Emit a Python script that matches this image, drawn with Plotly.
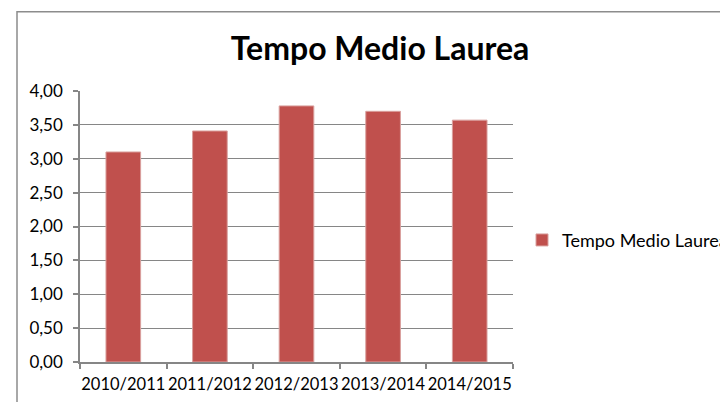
import plotly.graph_objects as go

categories = ["2010/2011", "2011/2012", "2012/2013", "2013/2014", "2014/2015"]
values = [3.10, 3.41, 3.78, 3.70, 3.57]
series_name = "Tempo Medio Laurea"
y_ticks = [0, 0.5, 1, 1.5, 2, 2.5, 3, 3.5, 4]

FONT = "Lato"
BAR = "#C0504D"
GRID = "#868686"

L, R, T, B = 80, 207, 90.5, 40
W, H = 720, 402
pw = W - L - R
ph = H - T - B

def px_x(x):
    return (x - L) / pw

def px_y(y):
    return (H - B - y) / ph

fig = go.Figure()
fig.add_trace(go.Bar(
    x=categories, y=values, name=series_name,
    marker=dict(color=BAR, line=dict(color="#D9A09E", width=1)),
    showlegend=True,
))

fig.update_layout(
    width=W, height=H,
    margin=dict(l=L, r=R, t=T, b=B, autoexpand=False),
    paper_bgcolor="white", plot_bgcolor="white",
    font=dict(family=FONT, size=18, color="black"),
    bargap=0.6,
    separators=",.",
    title=dict(text="<b>Tempo Medio Laurea</b>", x=px_x(380), xref="paper",
               xanchor="center", y=(H - 49) / H, yanchor="middle",
               font=dict(family=FONT, size=32, color="black")),
    showlegend=True,
    legend=dict(x=px_x(522), xanchor="left", y=px_y(240), yanchor="middle",
                font=dict(family=FONT, size=18, color="black"),
                bgcolor="rgba(0,0,0,0)", borderwidth=0),
    xaxis=dict(showline=True, linecolor=GRID, linewidth=1.5,
               ticks="outside", ticklen=5, tickcolor=GRID, tickwidth=1.5,
               tickson="boundaries", showgrid=False, tickangle=0,
               tickfont=dict(family=FONT, size=16.5, color="black"),
               ticklabelstandoff=6),
    yaxis=dict(range=[0, 4], tickvals=y_ticks, tickformat=".2f",
               showline=True, linecolor=GRID, linewidth=1.5,
               ticks="outside", ticklen=5, tickcolor=GRID, tickwidth=1.5,
               showgrid=True, gridcolor=GRID, gridwidth=1, zeroline=False,
               tickfont=dict(family=FONT, size=17, color="black"),
               ticklabelstandoff=7),
    shapes=[dict(type="rect", xref="paper", yref="paper",
                 x0=px_x(17), x1=px_x(740), y0=px_y(420), y1=px_y(11),
                 line=dict(color="#8C8C8C", width=1.5), fillcolor="rgba(0,0,0,0)",
                 layer="below")],
)

fig.write_html("out.html", config={"displayModeBar": False},
               post_script="document.body.style.margin='0';")
